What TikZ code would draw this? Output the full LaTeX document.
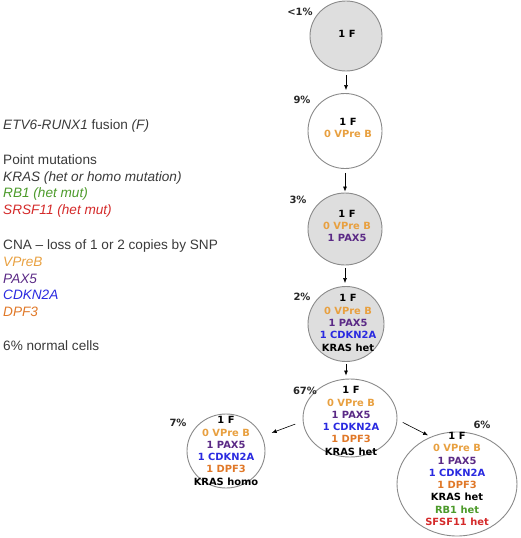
\documentclass[tikz,border=0pt]{standalone}
\usepackage{fontspec}
\setmainfont{Liberation Sans}
\newfontfamily\cellfont{DejaVu Sans}
\usetikzlibrary{arrows.meta, positioning, shapes.geometric}
\definecolor{vpreorange}{HTML}{E8A040}
\definecolor{paxpurple}{HTML}{5B2A86}
\definecolor{cdknblue}{HTML}{2A2AE0}
\definecolor{dpforange}{HTML}{E07828}
\definecolor{rbgreen}{HTML}{4C9A2A}
\definecolor{srsfred}{HTML}{D42A2A}
\definecolor{cellgray}{HTML}{8A8A8A}
\definecolor{clonefill}{HTML}{DEDEDE}
\definecolor{legendgray}{HTML}{3A3A3A}

\tikzset{
  cell/.style={ellipse, draw=cellgray, line width=0.9pt, inner sep=0pt},
  clone/.style={cell, fill=clonefill},
  celltext/.style={align=center, inner sep=0pt,
    font=\cellfont\bfseries\fontsize{9.9}{12.3}\selectfont},
  pct/.style={font=\cellfont\bfseries\fontsize{10}{12}\selectfont,
    text=black!85, inner sep=0pt},
  legend/.style={anchor=base west, inner sep=0pt,
    font=\fontsize{13.6}{16.7}\selectfont, text=legendgray},
  arr/.style={-{Latex[length=5pt,width=4pt]}, line width=0.6pt}
}

\newcommand{\vpre}{\textcolor{vpreorange}{0 VPre B}}
\newcommand{\paxline}{\textcolor{paxpurple}{1 PAX5}}
\newcommand{\cdknline}{\textcolor{cdknblue}{1 CDKN2A}}
\newcommand{\dpfline}{\textcolor{dpforange}{1 DPF3}}

\begin{document}
\begin{tikzpicture}[x=1pt, y=-1pt]
  \useasboundingbox (0,0) rectangle (520,538);

  % Legend on the left
  \node[legend] (lfusion) at (3,129.7) {\textit{ETV6-RUNX1} fusion \textit{(F)}};
  \node[legend] (lpoint) at (3,164) {Point mutations};
  \node[legend] (lkras) at (3,181) {\textit{KRAS (het or homo mutation)}};
  \node[legend, text=rbgreen] (lrb) at (3,197.5) {\textit{RB1 (het mut)}};
  \node[legend, text=srsfred] (lsrsf) at (3,214.5) {\textit{SRSF11 (het mut)}};
  \node[legend] (lcna) at (3,249.7) {CNA -- loss of 1 or 2 copies by SNP};
  \node[legend, text=vpreorange] (lvpre) at (3,266.4) {\textit{VPreB}};
  \node[legend, text=paxpurple] (lpax) at (3,283) {\textit{PAX5}};
  \node[legend, text=cdknblue] (lcdkn) at (3,299.7) {\textit{CDKN2A}};
  \node[legend, text=dpforange] (ldpf) at (3,316.3) {\textit{DPF3}};
  \node[legend] (lnormal) at (3,350) {6\% normal cells};

  % Clonal cells, top to bottom
  \node[clone, minimum width=72pt, minimum height=70pt] (c1) at (346,36) {};
  \node[cell, minimum width=74pt, minimum height=75pt] (c2) at (345,131) {};
  \node[clone, minimum width=74pt, minimum height=72pt] (c3) at (345,229) {};
  \node[clone, minimum width=76pt, minimum height=75pt] (c4) at (346,324) {};
  \node[cell, minimum width=94pt, minimum height=78pt] (c5) at (350,418) {};
  \node[cell, minimum width=78pt, minimum height=74pt] (c6) at (226,451) {};
  \node[cell, minimum width=120pt, minimum height=104pt] (c7) at (457,484) {};

  % Cell contents
  \node[celltext] (t1) at (347,34) {1 F};
  \node[celltext] (t2) at (348,128) {1 F\\ \vpre};
  \node[celltext] (t3) at (347,226) {1 F\\ \vpre\\ \paxline};
  \node[celltext] (t4) at (348,323) {1 F\\ \vpre\\ \paxline\\ \cdknline\\ KRAS het};
  \node[celltext] (t5) at (351,421)
    {1 F\\ \vpre\\ \paxline\\ \cdknline\\ \dpfline\\ KRAS het};
  \node[celltext] (t6) at (226,451)
    {1 F\\ \vpre\\ \paxline\\ \cdknline\\ \dpfline\\ KRAS homo};
  \node[celltext] (t7) at (457,479)
    {1 F\\ \vpre\\ \paxline\\ \cdknline\\ \dpfline\\ KRAS het\\
     \textcolor{rbgreen}{RB1 het}\\ \textcolor{srsfred}{SFSF11 het}};

  % Clone sizes
  \node[pct] (p1) at (300,12) {<1\%};
  \node[pct] (p2) at (302,100) {9\%};
  \node[pct] (p3) at (298,200) {3\%};
  \node[pct] (p4) at (302,297) {2\%};
  \node[pct] (p5) at (305,391) {67\%};
  \node[pct] (p6) at (178,423) {7\%};
  \node[pct] (p7) at (482,425) {6\%};

  % Arrows between clones
  \draw[arr, shorten <=4pt, shorten >=3pt] (c1.south) -- (c1.south |- c2.north);
  \draw[arr, shorten <=4pt, shorten >=1pt] (c2.south) -- (c2.south |- c3.north);
  \draw[arr, shorten <=3pt, shorten >=3pt] (c3.south) -- (c3.south |- c4.north);
  \draw[arr, shorten <=2pt, shorten >=3pt] (c4.south) -- (c4.south |- c5.north);
  \draw[arr, shorten <=8pt, shorten >=10pt] (c5.184) -- (c6.22);
  \draw[arr, shorten <=6pt, shorten >=3pt] (c5.-2) -- (c7.119);
\end{tikzpicture}
\end{document}
